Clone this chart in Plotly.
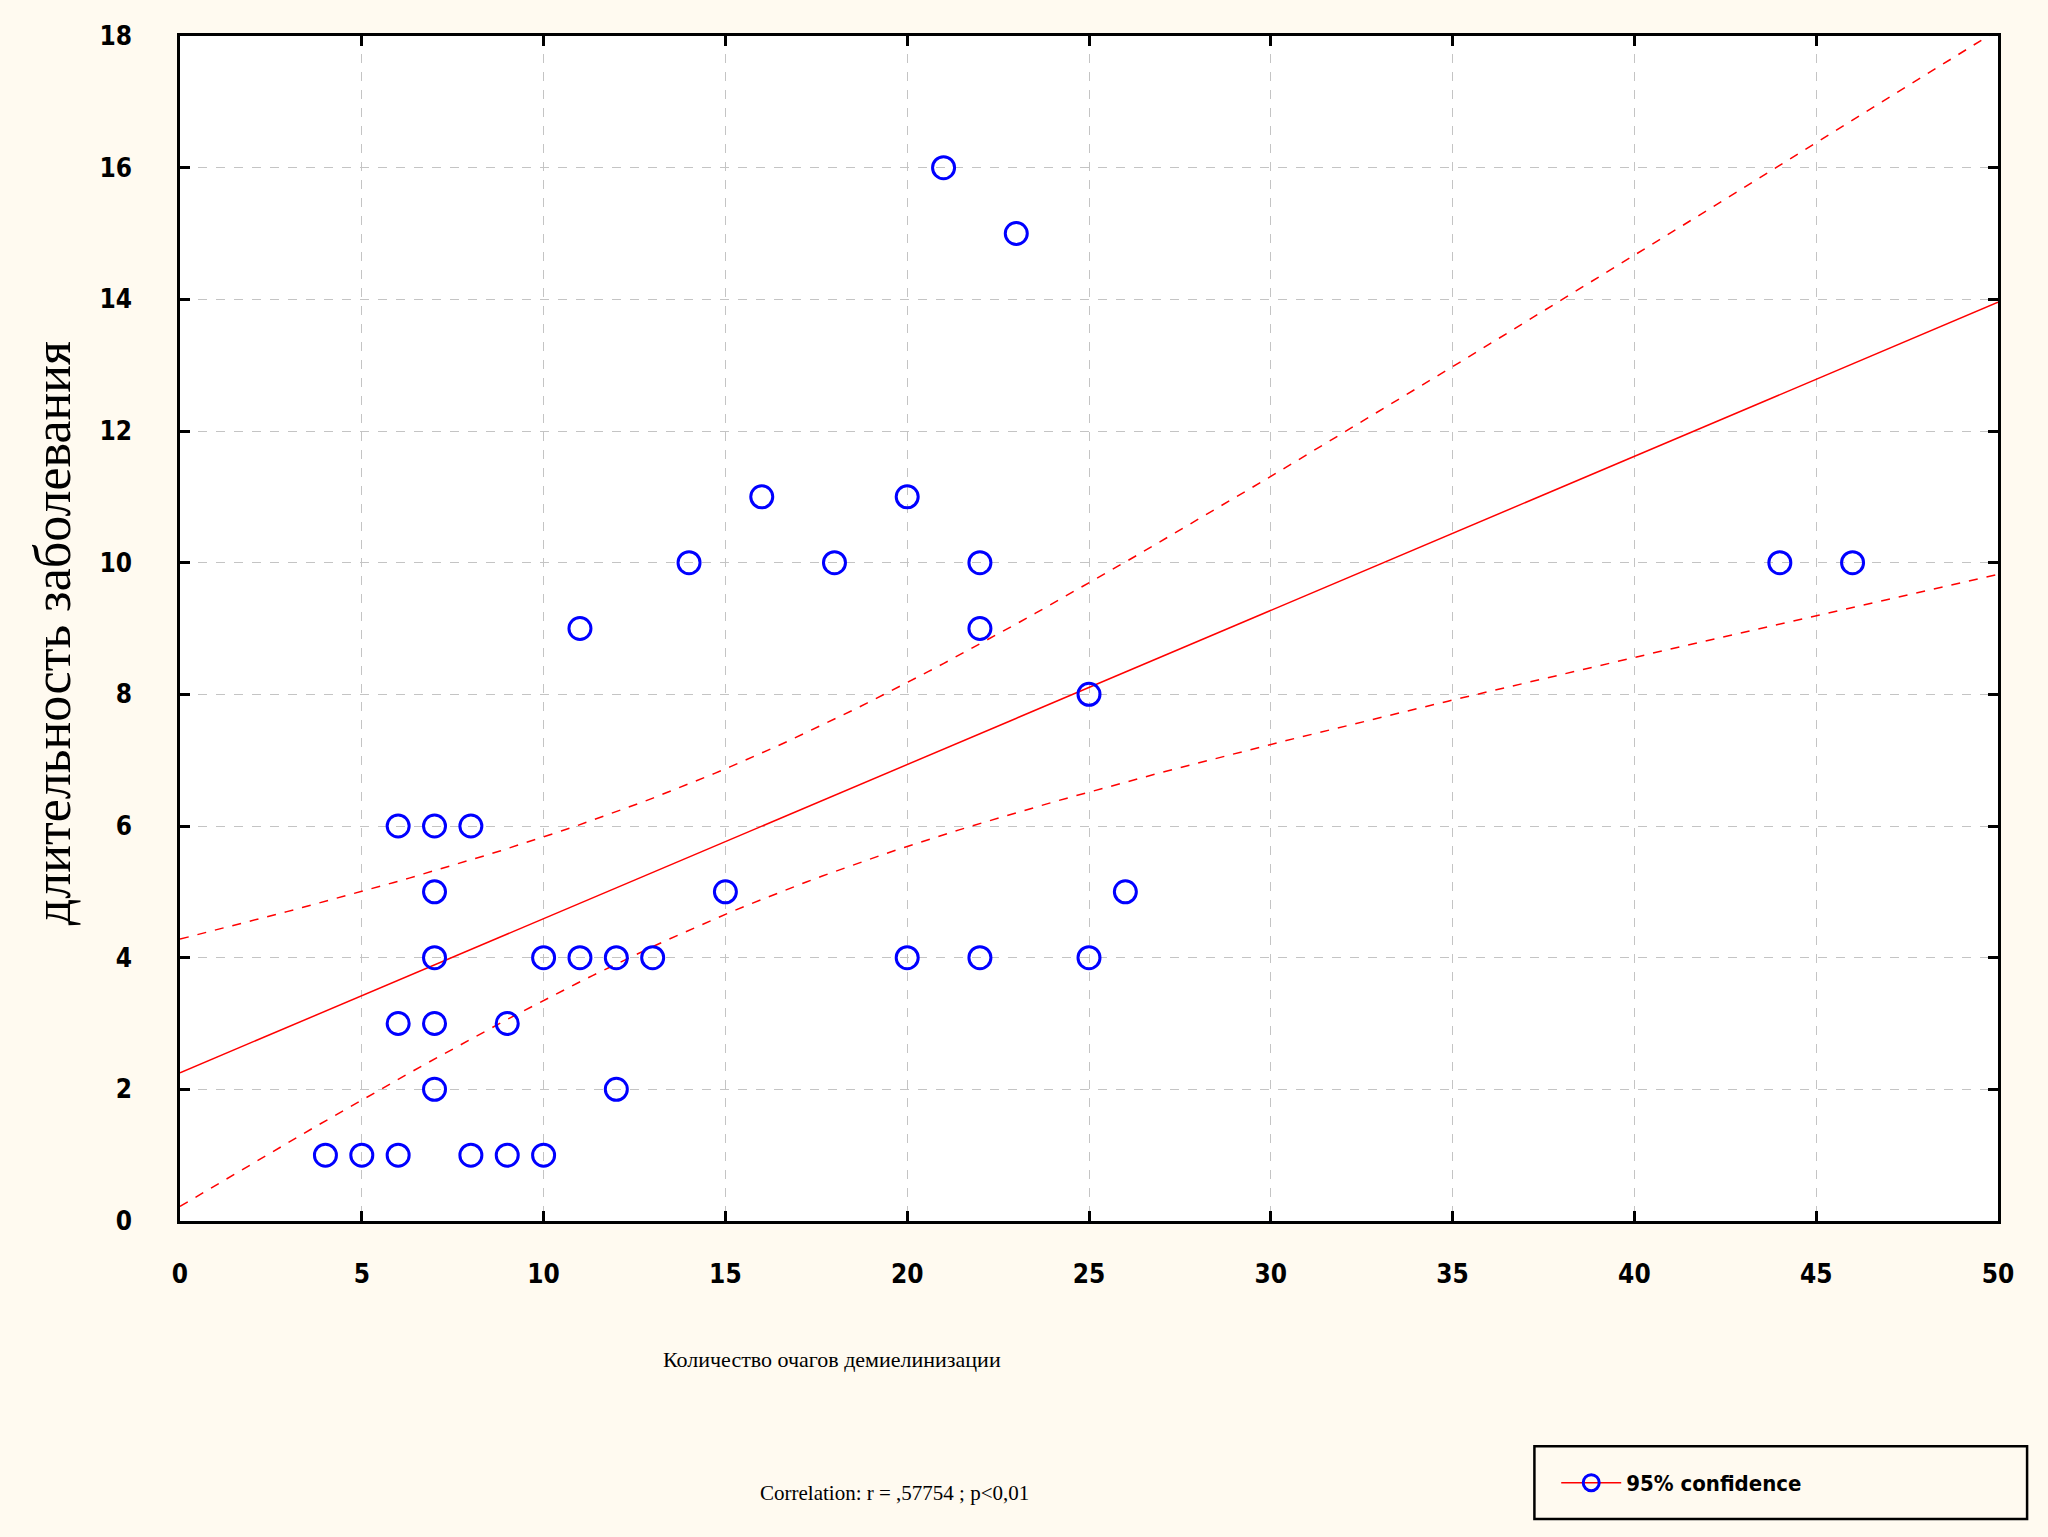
import numpy as np
import plotly.graph_objects as go

lesions = [4, 5, 6, 8, 9, 10,
           6, 7, 9,
           7, 12,
           7, 10, 11, 12, 13, 20, 22, 25,
           7, 15, 26,
           6, 7, 8,
           25,
           11, 22,
           14, 18, 22, 44, 46,
           16, 20,
           21, 23]
duration = [1, 1, 1, 1, 1, 1,
            3, 3, 3,
            2, 2,
            4, 4, 4, 4, 4, 4, 4, 4,
            5, 5, 5,
            6, 6, 6,
            8,
            9, 9,
            10, 10, 10, 10, 10,
            11, 11,
            16, 15]

x_ticks = [0, 5, 10, 15, 20, 25, 30, 35, 40, 45, 50]
y_ticks = [0, 2, 4, 6, 8, 10, 12, 14, 16, 18]

T_CRIT = 2.03  # t(0.975, n-2)

BG = "#FFFAF0"
NARROW = "Liberation Sans Narrow, DejaVu Sans Condensed, Arial Narrow, sans-serif"
SERIF = "Liberation Serif, Times New Roman, serif"
TICK_FONT = dict(family=NARROW, size=26, color="black", weight="bold")

# Linear fit and confidence band for the mean
x = np.array(lesions, dtype=float)
y = np.array(duration, dtype=float)
n = len(x)
slope, intercept = np.polyfit(x, y, 1)
resid = y - (intercept + slope * x)
s = np.sqrt(np.sum(resid ** 2) / (n - 2))
sxx = np.sum((x - x.mean()) ** 2)
xf = np.linspace(0, 50, 120)
yf = intercept + slope * xf
half = T_CRIT * s * np.sqrt(1 / n + (xf - x.mean()) ** 2 / sxx)

fig = go.Figure()

fig.add_trace(go.Scatter(x=xf, y=yf + half, mode="lines", showlegend=False,
                         line=dict(color="red", width=1.5, dash="dash"), hoverinfo="skip"))
fig.add_trace(go.Scatter(x=xf, y=yf - half, mode="lines", showlegend=False,
                         line=dict(color="red", width=1.5, dash="dash"), hoverinfo="skip"))
fig.add_trace(go.Scatter(x=xf, y=yf, mode="lines", showlegend=False,
                         line=dict(color="red", width=1.5), hoverinfo="skip"))
fig.add_trace(go.Scatter(
    x=lesions, y=duration, mode="markers", showlegend=False,
    marker=dict(symbol="circle-open", size=22, color="#0000FF",
                line=dict(width=3, color="#0000FF")),
))
# legend entry
fig.add_trace(go.Scatter(
    x=[None], y=[None], mode="lines+markers", name="95% confidence",
    line=dict(color="red", width=1.5),
    marker=dict(symbol="circle-open", size=20, color="#0000FF",
                line=dict(width=3, color="#0000FF")),
))

axis_common = dict(
    showline=True, linecolor="black", linewidth=2.5, mirror="ticks",
    ticks="inside", ticklen=10, tickwidth=2.5, tickcolor="black",
    showgrid=True, gridcolor="#c4c4c4", griddash="dash", gridwidth=1,
    zeroline=False, tickfont=TICK_FONT,
)

fig.update_xaxes(range=[0, 50], tickvals=x_ticks, ticklabelstandoff=28, **axis_common)
fig.update_yaxes(range=[0, 18], tickvals=y_ticks, ticklabelstandoff=40, **axis_common)

fig.add_annotation(text="длительность заболевания", textangle=-90,
                   xref="paper", yref="paper", x=-0.0704, y=0.496,
                   xanchor="center", yanchor="middle", showarrow=False,
                   font=dict(family=SERIF, size=52, color="black"))
fig.add_annotation(text="Количество очагов демиелинизации",
                   xref="paper", yref="paper", x=0.3586, y=-0.117,
                   xanchor="center", yanchor="middle", showarrow=False,
                   font=dict(family=SERIF, size=22, color="black"))
fig.add_annotation(text="Correlation: r = ,57754 ; p<0,01",
                   xref="paper", yref="paper", x=0.393, y=-0.2295,
                   xanchor="center", yanchor="middle", showarrow=False,
                   font=dict(family=SERIF, size=21, color="black"))

# legend frame
fig.add_shape(type="rect", xref="paper", yref="paper",
              x0=0.745, x1=1.016, y0=-0.190, y1=-0.2515,
              line=dict(color="black", width=2.5), fillcolor=BG, layer="below")

fig.update_layout(
    width=2048, height=1537,
    margin=dict(l=180, r=50, t=36, b=316),
    paper_bgcolor=BG, plot_bgcolor="white",
    showlegend=True,
    legend=dict(x=0.757, y=-0.221, xanchor="left", yanchor="middle",
                bgcolor="rgba(0,0,0,0)", borderwidth=0,
                font=dict(family=NARROW, size=22, color="black", weight="bold"),
                itemwidth=60),
)

fig.write_html("out.html", config={"displayModeBar": False},
               post_script="document.body.style.margin='0';document.body.style.background='#FFFAF0';")
